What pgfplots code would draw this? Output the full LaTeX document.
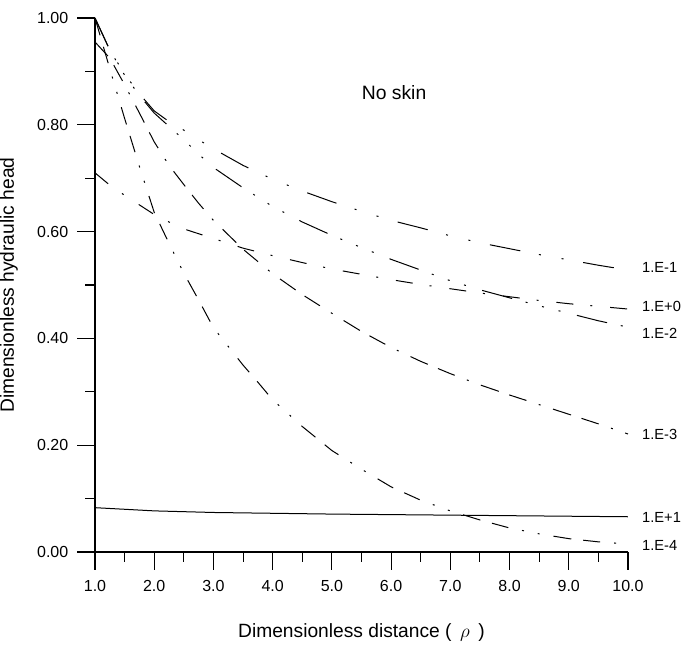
\documentclass[border=0pt]{standalone}
\usepackage{pgfplots}
\pgfplotsset{compat=1.18}
\usepackage{fontspec}
\setmainfont{Liberation Sans}
\begin{document}
\begin{tikzpicture}
\begin{axis}[
  at={(71.25pt,78.75pt)}, anchor=south west,
  scale only axis, width=399.75pt, height=400.5pt,
  xmin=1, xmax=10, ymin=0, ymax=1,
  axis lines=left, axis line style={-, line width=0.8pt},
  xtick={1,2,3,4,5,6,7,8,9,10}, ytick={0,0.2,0.4,0.6,0.8,1},
  minor x tick num=1, minor y tick num=1,
  tick align=outside,
  major tick length=13.5pt, minor tick length=7.5pt,
  every tick/.style={black, line width=0.8pt},
  /pgf/number format/assume math mode=true,
  tick label style={font=\fontsize{12}{14}\selectfont},
  x tick label style={/pgf/number format/.cd, fixed, fixed zerofill, precision=1, /tikz/.cd, yshift=-4pt},
  y tick label style={/pgf/number format/.cd, fixed, fixed zerofill, precision=2, /tikz/.cd, xshift=-3pt},
  xlabel={Dimensionless distance (\, $\rho$\, )},
  ylabel={Dimensionless hydraulic head},
  label style={font=\fontsize{14.4}{17}\selectfont},
  xlabel style={at={(axis description cs:0.5,-0.161)}, anchor=base},
  ylabel style={at={(axis description cs:-0.152,0.5)}, anchor=base},
  clip=false,
]
% 1.E-1
\addplot[black, line width=0.75pt, dash pattern=on 23.25pt off 14.25pt on 1.5pt off 15.75pt on 1.5pt off 15pt] coordinates {
(1.00,1.000)(1.25,0.940)(1.50,0.895)(1.75,0.858)(2.00,0.826)(2.25,0.806)(2.50,0.790)(2.75,0.772)(3.00,0.755)(3.50,0.724)(4.00,0.698)(4.50,0.676)(5.00,0.656)(5.50,0.638)(6.00,0.621)(6.50,0.607)(7.00,0.592)(7.50,0.579)(8.00,0.568)(8.50,0.557)(9.00,0.547)(9.50,0.537)(10.0,0.528)};
% 1.E-2
\addplot[black, line width=0.75pt, dash pattern=on 23.25pt off 10.5pt on 1.5pt off 11.25pt on 1.5pt off 11.25pt on 1.5pt off 12.75pt] coordinates {
(1.00,1.000)(1.25,0.940)(1.50,0.893)(1.75,0.855)(2.00,0.822)(2.25,0.797)(2.50,0.772)(2.75,0.745)(3.00,0.720)(3.50,0.682)(4.00,0.647)(4.50,0.618)(5.00,0.593)(5.50,0.570)(6.00,0.548)(6.50,0.528)(7.00,0.508)(7.50,0.491)(8.00,0.476)(8.50,0.461)(9.00,0.447)(9.50,0.433)(10.0,0.421)};
% 1.E-3
\addplot[black, line width=0.75pt, dash pattern=on 14.25pt off 8.25pt on 13.5pt off 9.75pt on 1.5pt off 9.75pt] coordinates {
(1.00,0.955)(1.25,0.925)(1.50,0.875)(1.75,0.822)(2.00,0.768)(2.25,0.724)(2.50,0.688)(2.75,0.653)(3.00,0.621)(3.50,0.567)(4.00,0.521)(4.50,0.482)(5.00,0.447)(5.50,0.413)(6.00,0.383)(6.50,0.357)(7.00,0.334)(7.50,0.313)(8.00,0.294)(8.50,0.276)(9.00,0.258)(9.50,0.240)(10.0,0.221)};
% 1.E-4
\addplot[black, line width=0.75pt, dash pattern=on 13.5pt off 9pt on 12.75pt off 10.5pt on 1.5pt off 10.5pt on 1.5pt off 10.5pt] coordinates {
(1.00,1.000)(1.25,0.905)(1.50,0.812)(1.75,0.722)(2.00,0.636)(2.25,0.578)(2.50,0.522)(2.75,0.472)(3.00,0.420)(3.25,0.385)(3.50,0.350)(3.75,0.318)(4.00,0.285)(4.50,0.235)(5.00,0.190)(5.50,0.155)(6.00,0.122)(6.50,0.097)(7.00,0.077)(7.50,0.060)(8.00,0.045)(8.50,0.034)(9.00,0.025)(9.50,0.019)(10.0,0.015)};
% 1.E+0
\addplot[black, line width=0.75pt, dash pattern=on 12.75pt off 12.75pt on 1.5pt off 13.5pt] coordinates {
(1.00,0.710)(1.25,0.687)(1.50,0.668)(1.75,0.650)(2.00,0.632)(2.25,0.618)(2.50,0.605)(2.75,0.596)(3.00,0.587)(3.50,0.569)(4.00,0.555)(4.50,0.542)(5.00,0.530)(5.50,0.520)(6.00,0.510)(6.50,0.501)(7.00,0.493)(7.50,0.485)(8.00,0.478)(8.50,0.471)(9.00,0.465)(9.50,0.460)(10.0,0.455)};
% 1.E+1
\addplot[black, line width=0.75pt] coordinates {
(1.0,0.083)(1.5,0.080)(2.0,0.077)(3.0,0.074)(4.0,0.0725)(5.0,0.071)(6.0,0.070)(7.0,0.069)(8.0,0.068)(9.0,0.067)(10.0,0.066)};
\node[font=\fontsize{14.5}{17}\selectfont] at (axis cs:6.05,0.861) {No skin};
\node[anchor=west, inner sep=0pt, font=\fontsize{11}{13}\selectfont] at (axis cs:10.235,0.532) {1.E-1};
\node[anchor=west, inner sep=0pt, font=\fontsize{11}{13}\selectfont] at (axis cs:10.235,0.459) {1.E+0};
\node[anchor=west, inner sep=0pt, font=\fontsize{11}{13}\selectfont] at (axis cs:10.235,0.410) {1.E-2};
\node[anchor=west, inner sep=0pt, font=\fontsize{11}{13}\selectfont] at (axis cs:10.235,0.221) {1.E-3};
\node[anchor=west, inner sep=0pt, font=\fontsize{11}{13}\selectfont] at (axis cs:10.235,0.0655) {1.E+1};
\node[anchor=west, inner sep=0pt, font=\fontsize{11}{13}\selectfont] at (axis cs:10.235,0.013) {1.E-4};
\end{axis}
\pgfresetboundingbox
\path[use as bounding box] (0,0) rectangle (511.5pt,492.75pt);
\end{tikzpicture}
\end{document}
